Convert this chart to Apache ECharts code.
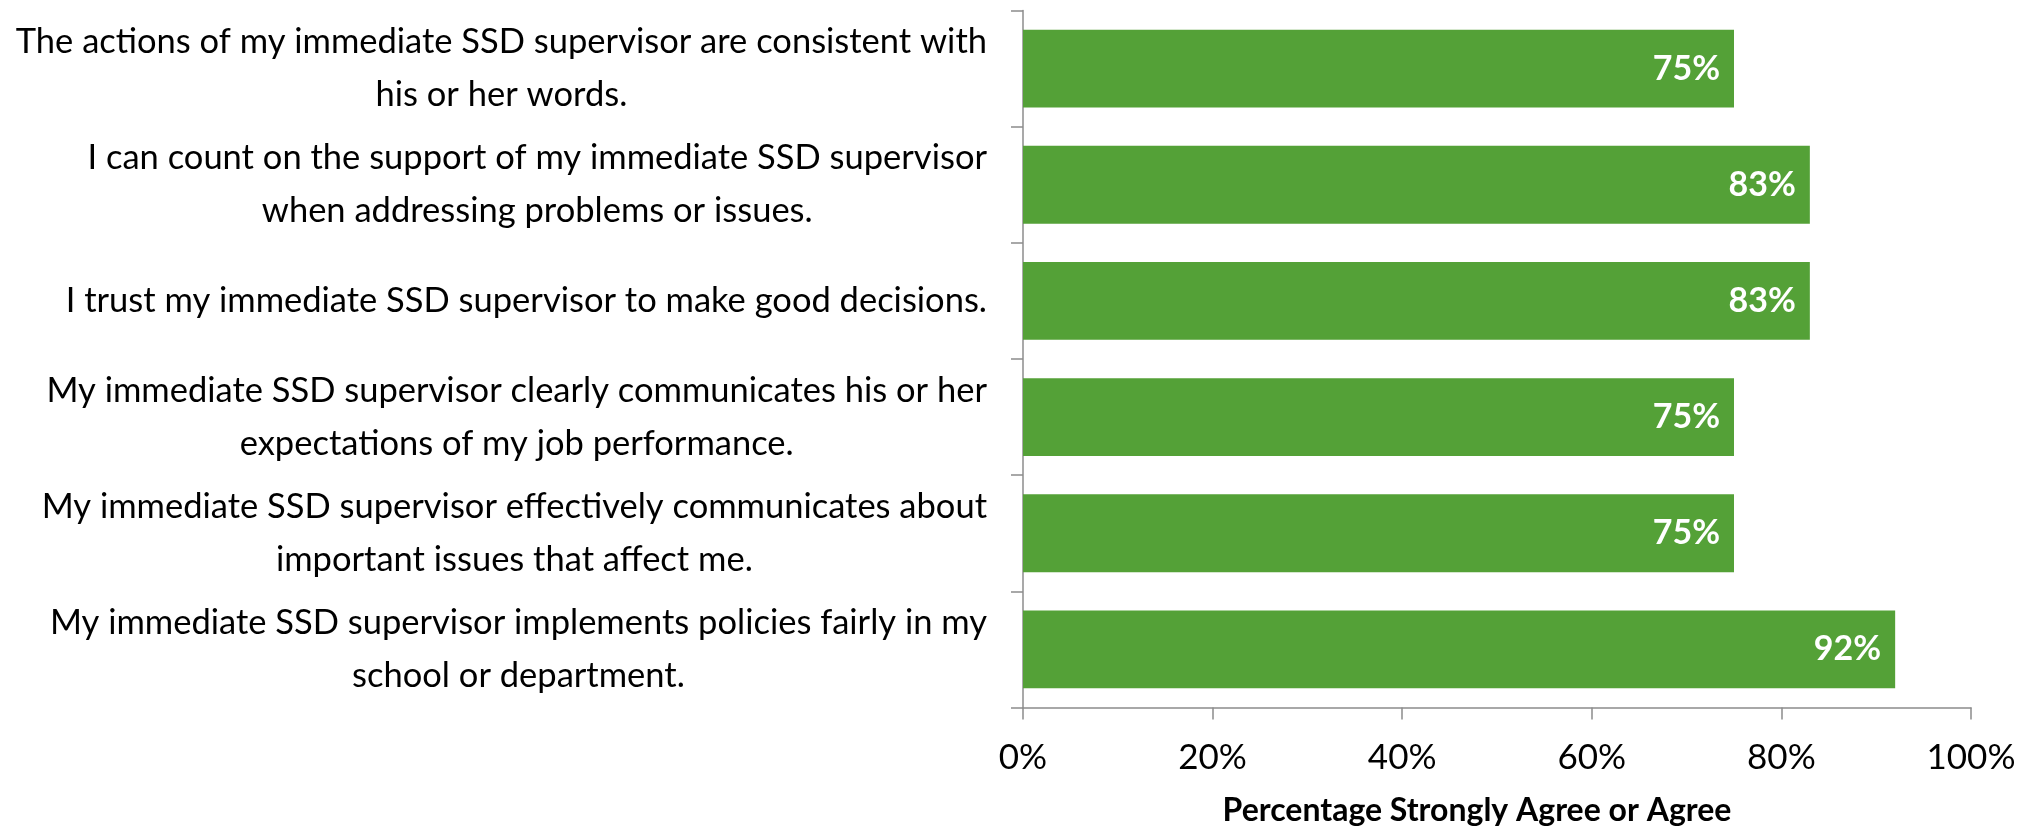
<!DOCTYPE html>
<html>
<head>
<meta charset="utf-8">
<script src="https://cdn.jsdelivr.net/npm/echarts@6/dist/echarts.min.js"></script>
<style>
html,body{margin:0;padding:0;background:#fff;}
#chart{width:2028px;height:828px;}
</style>
</head>
<body>
<div id="chart"></div>
<script>
const categories = [
  "The actions of my immediate SSD supervisor are consistent with\nhis or her words.",
  "I can count on the support of my immediate SSD supervisor\nwhen addressing problems or issues.",
  "I trust my immediate SSD supervisor to make good decisions.",
  "My immediate SSD supervisor clearly communicates his or her\nexpectations of my job performance.",
  "My immediate SSD supervisor effectively communicates about\nimportant issues that affect me.",
  "My immediate SSD supervisor implements policies fairly in my\nschool or department."
];
const values = [75, 83, 83, 75, 75, 92];
const xTicks = [0, 20, 40, 60, 80, 100];
const xAxisTitle = "Percentage Strongly Agree or Agree";

const FONT = "Lato, 'Open Sans', sans-serif";
const chart = echarts.init(document.getElementById('chart'), null, {renderer: 'canvas'});
chart.setOption({
  animation: false,
  backgroundColor: '#ffffff',
  grid: {left: 1023, right: 57, top: 10.5, bottom: 120.5, containLabel: false, outerBoundsMode: 'none'},
  xAxis: {
    type: 'value',
    min: xTicks[0],
    max: xTicks[xTicks.length - 1],
    interval: xTicks[1] - xTicks[0],
    name: xAxisTitle,
    nameLocation: 'middle',
    nameGap: 87,
    nameTextStyle: {fontFamily: FONT, fontSize: 32, fontWeight: 'bold', color: '#000', padding: [0, 40, 0, 0]},
    axisLine: {show: true, lineStyle: {color: '#8c8c8c', width: 1.5}},
    axisTick: {show: true, length: 12, inside: false, lineStyle: {color: '#8c8c8c', width: 1.5}},
    splitLine: {show: false},
    axisLabel: {margin: 33, fontFamily: FONT, fontSize: 35, color: '#000', formatter: v => v + '%'}
  },
  yAxis: {
    type: 'category',
    inverse: true,
    data: categories,
    axisLine: {show: true, lineStyle: {color: '#8c8c8c', width: 1.5}},
    axisTick: {show: true, length: 12, alignWithLabel: false, lineStyle: {color: '#8c8c8c', width: 1.5}},
    axisLabel: {
      margin: 36,
      align: 'right',
      interval: 0,
      formatter: v => v.split('\n').map(l => '{c|' + l + '}').join('\n'),
      rich: {c: {align: 'center', fontFamily: FONT, fontSize: 34.5, lineHeight: 53, color: '#000'}}
    }
  },
  series: [{
    type: 'bar',
    data: values,
    barCategoryGap: '33%',
    itemStyle: {color: '#54a137'},
    label: {
      show: true,
      position: 'insideRight',
      distance: 14,
      formatter: p => p.value + '%',
      fontFamily: FONT,
      fontSize: 34,
      fontWeight: 'bold',
      color: '#fff'
    }
  }]
});
</script>
</body>
</html>
